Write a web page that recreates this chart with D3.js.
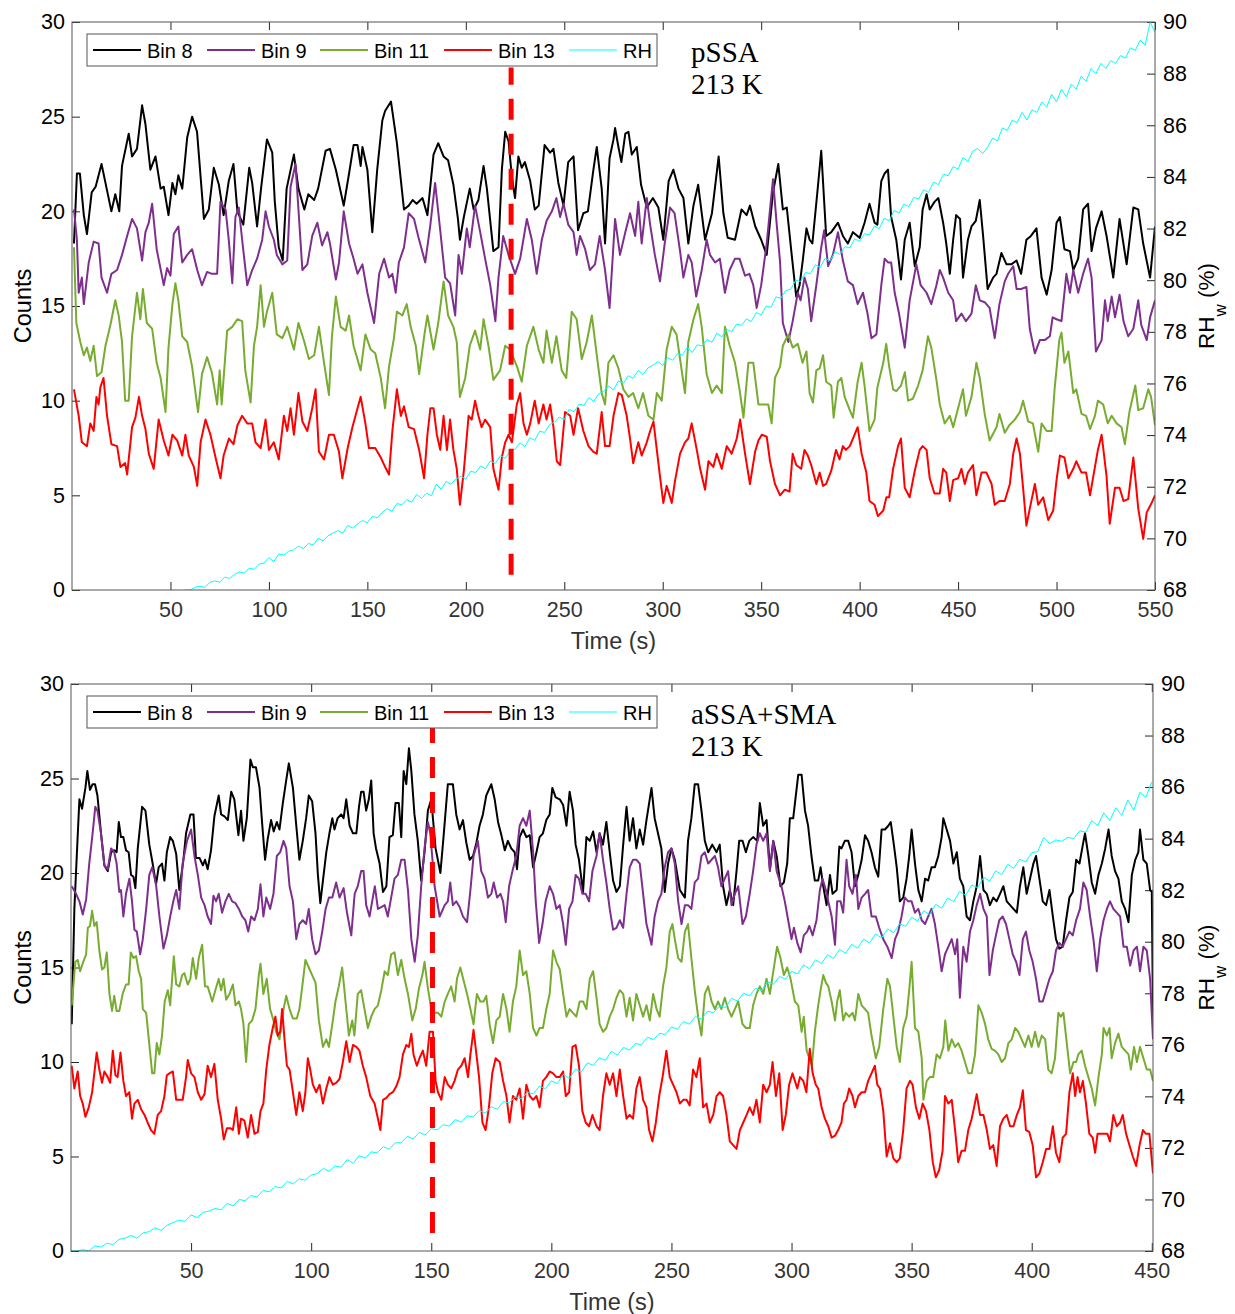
<!DOCTYPE html>
<html>
<head>
<meta charset="utf-8">
<script src="https://cdn.jsdelivr.net/npm/d3@7"></script>
<style>
  body { margin: 0; background: #fff; }
</style>
</head>
<body>
<div id="chart"></div>
<script>
// ---- ticks and labels ----
const countTicks = [0, 5, 10, 15, 20, 25, 30];
const rhTicks = [68, 70, 72, 74, 76, 78, 80, 82, 84, 86, 88, 90];
const topTimeTicks = [50, 100, 150, 200, 250, 300, 350, 400, 450, 500, 550];
const botTimeTicks = [50, 100, 150, 200, 250, 300, 350, 400, 450];
const seriesNames = ["Bin 8", "Bin 9", "Bin 11", "Bin 13", "RH"];
const topNote = ["pSSA", "213 K"];
const botNote = ["aSSA+SMA", "213 K"];
const topMarker = {time: 223, from: 0.8, to: 27.6};
const botMarker = {time: 150.5, from: 0.95, to: 27.7};

// ---- top panel (pSSA), [time s, counts] ----
const topBin8 = [[1,18.3],[2.5,22],[4,22],[6,19.8],[7.6,18.8],[10,21],[12,21.3],[15,22.5],[18,21],[20,20],[22,20.9],[24,20],[25.4,22.4],[28.8,24.1],[30.5,22.9],[33,23.3],[35.6,25.6],[37.3,24.6],[39.8,22.2],[42.4,22.9],[45,21.2],[46.6,21.3],[49,19.8],[51,21.5],[52.5,20.9],[54,21.9],[56,21.2],[58.5,23.9],[61,25],[63.5,24.2],[67,19.6],[69.5,20.1],[72,22.3],[74.6,21.4],[77,19.8],[79.6,21.6],[82,22.5],[84,20],[87,19.3],[90,22.3],[91.5,21.5],[94,19.2],[96,21.2],[99,23.8],[101.7,23.1],[103,20.5],[105,18.1],[107,17.4],[109,21.2],[112.7,23],[115,21.2],[118,20.1],[120,20.9],[123,20.6],[125,21.2],[128.8,23.2],[131,23.3],[134,22.2],[138,20.3],[140.7,22],[143,23.5],[145,23.5],[146.6,22.4],[147.5,23.4],[150,22.2],[152.5,18.9],[155,22.2],[157.6,24.8],[159,25.3],[162,25.8],[165,23.6],[168.6,20.1],[171,20.3],[173,20.6],[175,20.4],[178,20.7],[180.5,19.8],[183.6,23],[186,23.6],[188.7,22.9],[191,22.7],[193.7,21.4],[196,19.6],[197,18.5],[199,19.7],[202,21.2],[204,20.1],[206.4,20.6],[209,22.4],[210.7,21.2],[214,17.9],[216.6,18.1],[218.3,22.2],[220,24.2],[221.7,23.7],[223.4,21.8],[225,20.7],[226.7,22.9],[228.4,22.3],[230,22.6],[232.7,21.6],[235,20.1],[237,20.3],[240,23.5],[242.8,23.1],[244.5,23.3],[247,21.5],[249.6,20.3],[252,22.6],[254.7,22.9],[257,19],[259.7,19.9],[262,20],[264.8,22.2],[266.5,23.4],[269,21.2],[270.7,18.3],[273,22.8],[275,23.8],[275.8,24.4],[277.5,23.4],[279,22.6],[281,24.1],[282.6,24.2],[284.3,23],[286.8,23.4],[289,21.4],[291.9,20.2],[295,20.7],[297.8,20.2],[300.3,18.5],[303,21.6],[305.4,22.2],[308,21.2],[310.5,20.7],[313,18.3],[315.6,20.3],[318,21.4],[321.5,18.5],[325,19.9],[328.4,22.9],[330.8,19.9],[333,18.6],[336.7,18.5],[340,20.1],[342.6,19.8],[344.3,20.3],[347,19.2],[350,18.5],[352.8,17.7],[356,21],[358.7,22.5],[361,20.1],[363,20.2],[365.5,17.7],[367.8,15.5],[369.5,16.1],[371,17.3],[373,19.1],[374.6,18.5],[376,18.3],[378.8,21.3],[380.5,23.2],[383,18.7],[385.6,18.9],[389,19.4],[391.5,18.7],[394,18.3],[396.6,18.9],[400,18.6],[402.5,19.4],[405,20.4],[407.6,19.4],[409,19.3],[411,21.6],[412.7,22],[414.4,22.2],[416,19.7],[418.6,18.5],[421,16.4],[422.9,18.5],[425.4,19.4],[428,17.1],[430.5,18.1],[432,20.1],[434,20.9],[435.6,20.1],[438,20.5],[440,20.7],[442.4,19.4],[444,18.3],[445.8,16.7],[447.5,18.5],[449,19.8],[451,19.6],[452.5,16.5],[455,18.5],[456.8,19.2],[459,19.5],[461,20.6],[462.7,18.7],[465,15.9],[467.8,16.5],[469.5,16.7],[472,17.8],[474.6,17.2],[477,17.2],[479.7,17.4],[482,16.7],[484.7,18.5],[487,18.7],[489.8,19.1],[492.4,16.5],[495,15.6],[497.5,16.9],[500,19.4],[501.7,19.7],[504,18],[506.8,17.9],[508.5,16.9],[511,17.5],[513.5,20.1],[516,20.4],[517.8,17.9],[520,19.1],[522.9,20],[525.4,18.7],[528.8,16.5],[532,19.6],[535.6,17.2],[539,20.2],[541.5,20.1],[544,18.3],[547.5,16.5],[550,19.2]];
const topBin9 = [[1,20.1],[2.5,18.5],[3.4,15.7],[5,16.5],[6,15.1],[8.5,17.3],[11,18.4],[13.5,18.3],[15,16.5],[17.8,15.7],[20,16.7],[22.9,16.9],[25.4,17.7],[28,18.7],[30.5,19.6],[33,19.1],[35.6,17.4],[37.3,18.9],[39,19.4],[40.7,20.4],[43,18],[46.6,16.1],[48.3,17],[50,16.6],[51.7,18.8],[54,19.2],[56,17.3],[58.5,17.7],[61,18],[63.6,16.9],[66,16.1],[68.6,16.8],[71,16.7],[73.7,16.7],[75.4,20.5],[78,20.1],[79.7,18.4],[81.4,16.2],[83,19.7],[84.7,20.2],[86.4,18.5],[89,16.1],[91.5,16.9],[94,17.5],[96.6,18.5],[98.3,20],[100,19.2],[102.5,18.5],[104,17.7],[106.8,17.2],[109.3,17.4],[111,21.3],[113.5,22.5],[115,20.1],[117,16.9],[119.5,17.2],[122,18.7],[124.6,19.4],[127,18.2],[129.7,18.9],[131,18.3],[134,16.4],[135.6,17.3],[138,20],[140.7,18.3],[143,17.5],[145,16.7],[147.5,17.2],[150,15.7],[153.4,14.1],[156,16.7],[158.5,17.5],[161,16.5],[162.7,16.7],[164.4,15.7],[166,17.3],[168.6,18.1],[171,19.9],[173.7,19.6],[176,18.6],[179.4,17.3],[182,19.3],[184.4,21.5],[187,19],[189.5,16.5],[192,16.2],[194.6,14.5],[196.3,17.7],[198,16.7],[200.5,19.1],[202,18.1],[204.7,20.3],[207.3,18.9],[209.8,17.5],[212.4,16.1],[215,14.2],[216.6,16.5],[219,18.7],[221.7,17.7],[225,16.7],[227.6,17.5],[231,19.6],[233.5,18.5],[236,16.7],[238.6,18.5],[241,19.5],[243.7,20],[246,20.7],[247.9,19.7],[249.6,20.4],[252,19.3],[254.7,18.9],[256.3,17.7],[258,18.7],[260.6,18],[263,16.9],[265.6,17.2],[268,18.7],[270.7,16.9],[273,14.9],[275.8,19.6],[278.3,17.7],[281,18.9],[283.4,19.9],[286,18.7],[287.6,20.5],[289.3,18.3],[291.9,20.7],[293.6,19.3],[296,17.7],[298.6,16.3],[301,18.3],[303.7,20.2],[306,19.9],[308.8,17.9],[310.5,16.5],[313,17.7],[314.7,17.3],[317,15.5],[319.8,16.9],[322.3,18.5],[324,17.7],[326.6,17.3],[329,17.5],[331.6,15.7],[334,16.9],[336.7,17.5],[339,17.5],[341.8,16.6],[344,16.7],[346,16.1],[347.7,14.9],[350,16.1],[352.8,18.3],[356,21.7],[357.9,19.3],[359.6,17.3],[361,14.1],[363.8,13.1],[366,14.2],[368.6,15.7],[370,15.3],[372,16.5],[373.7,15.9],[375.4,14.2],[378,16.1],[380.5,18.1],[382,19],[384,17.1],[386.4,17.7],[389,18.9],[391.5,17.4],[394,16.3],[396.6,16.1],[399,15.1],[401.7,15.7],[404,14.6],[406,13.3],[408.5,13.5],[411,16.1],[412.7,17.5],[414.4,17.3],[416,17.3],[417.8,15.7],[420,14.6],[422.9,12.8],[425.4,15.3],[428.8,17.2],[431,16.1],[434,15.7],[436.4,15.1],[439,16.1],[440.7,16.9],[442.4,16.5],[445,15.7],[447.5,15.3],[449,14.2],[451.7,14.6],[454,14.2],[456.8,14.6],[459,16.1],[461,15.3],[463.5,15.2],[466,14.9],[468.6,13.3],[471,15.1],[473.7,16.3],[475.4,16.7],[478,17.1],[479.7,15.9],[482,15.9],[484.7,16],[486.4,13.8],[489,12.5],[491.5,13.2],[494,13.2],[496.6,13.4],[498,14.4],[500,14.3],[502.5,14.2],[505,16.7],[506.8,15.7],[508.5,16.9],[511,15.7],[513.5,16.7],[516,17.5],[517.8,16.5],[520,12.6],[522.9,13.2],[524.6,15.3],[526,14.2],[528,15.5],[529.7,14.4],[532,15.6],[534,14.2],[536.4,13.4],[539,13.8],[541.5,15.3],[543,14],[545.8,13.2],[547.5,14.4],[550,15.3]];
const topBin11 = [[1,18.1],[2.2,14.1],[4.2,13.1],[6,12.4],[7.6,12.8],[9.3,12.1],[11,12.9],[12.7,11.3],[15,11.5],[17,12.9],[19.5,14],[22,15.3],[23.7,14.5],[25.4,13.1],[27,10],[28.8,10],[30.5,13.4],[33,15.7],[34.7,14.3],[36,15.9],[38,14.1],[40.7,13.8],[43,12],[45,11.2],[47.5,9.4],[49,12.8],[51,15.1],[52.5,16.2],[54,15.3],[56,13.4],[58.5,13.1],[61,11.8],[64,9.4],[66,11.4],[68.6,12.3],[71,11.5],[73.7,9.8],[75,11.6],[76,9.8],[78.8,13.7],[81.4,13.9],[84,14.3],[86.4,14.2],[88,11.6],[90.7,9.9],[92.4,12.9],[94,13.9],[95.8,16.1],[97.5,13.9],[99,14.7],[101.7,15.7],[104,13.5],[106.8,13.3],[109.3,13.9],[112.7,12.7],[115,14.1],[118,13.1],[120.3,12.2],[123,12.4],[125.4,13.9],[128,12],[130.5,10.3],[132,13.4],[134,15.5],[136.4,13.9],[139,13.7],[140.7,14.5],[143,12.9],[146.6,11.6],[149,13.5],[151.7,12.7],[154,12.5],[156.8,11.2],[159,9.6],[161,11.8],[163.5,13.3],[165,14.7],[167.8,14.5],[170,15.1],[172,13.9],[174.6,12.9],[176.3,11.4],[179,13.5],[180.5,14.5],[183.6,12.7],[186,14.1],[188.7,16.3],[191,14.5],[193.7,13.9],[195.4,13.1],[197,10.2],[199.7,11.2],[202,12.9],[204.7,13.7],[207.3,12.7],[209,14.3],[211.5,12.9],[214,11.1],[217.4,11.6],[220,12.9],[222.5,12.7],[226,11.8],[228.4,11],[231,12.9],[234.3,13.9],[237,12.7],[239.4,12],[241,13.7],[243.7,12],[246,13.4],[248.7,11.6],[251,11.2],[253.8,14.7],[256.3,14.3],[258.9,12.2],[261.4,13.1],[264,14.5],[266.5,12.4],[269,10.4],[270.7,9.8],[272.4,12],[275,12.4],[277.5,11.7],[280,10.6],[282.6,10.2],[285,10.4],[287.6,9.6],[290,10.4],[292.7,9.2],[295.3,9],[297,10.4],[299.5,10],[302,12.7],[304.6,13.9],[307,13.5],[308.8,12.2],[311.3,10.4],[313,13.1],[315.6,14.3],[318,15.1],[319.8,13.9],[322.3,11.4],[325,10.4],[327.4,10.8],[330,10.4],[331.6,13.9],[334,12.9],[336.7,12],[339,10.6],[341,9.1],[343.5,12],[346,12],[348.6,9.8],[351,9.8],[353.6,9.8],[355.3,8.8],[357,11.2],[359.6,11.8],[361,12.9],[363.8,13.5],[366,12.8],[368.6,13],[371,12],[373,12.6],[374.6,10.4],[376.3,9.9],[378,11.6],[379.7,11.7],[381.4,12.4],[383,11],[385.6,10.8],[386.8,9.1],[389,11],[390.7,11.2],[392.4,10.2],[395,9.5],[396.6,9.1],[399,11],[401,12],[402.5,10.8],[405,8.4],[407.6,9],[409,10.7],[412,12],[413.5,13],[415,11.8],[417,10.6],[418.6,10.5],[421,10.8],[423,11.5],[424.6,10],[427,10.1],[429.7,10.8],[432,11.6],[434.7,13.4],[436.4,12.8],[439,11.1],[440.7,9.8],[443.2,8.8],[445.8,9.2],[447.5,8.6],[450,9.6],[452.5,10.6],[454,9.2],[456.8,10.2],[459.3,12],[461,11.2],[463.5,9.3],[466,7.9],[469.5,8.6],[471,9.3],[473.7,8.3],[476,8.7],[478.8,9],[481.4,9.4],[483,10],[485.6,8.9],[488,8.8],[490.7,7.3],[492.4,8.8],[495,8.4],[497.5,8.4],[499,10.6],[501.4,13.2],[502.5,13.6],[504,12],[506,12.6],[508.5,10.4],[510,10.6],[512.7,9.3],[515,9.2],[517,8.5],[519.5,9.2],[521,10],[523.7,9.8],[526,8.8],[528,9.2],[530.5,8.8],[533,8.6],[534.7,7.7],[537,9.4],[540,10.8],[541.5,9.5],[544,9.6],[546.6,10.6],[548,10.2],[550,8.7]];
const topBin13 = [[1,10.6],[3.4,9.2],[5,7.8],[7.6,7.6],[9.3,8.8],[11,8.4],[12.4,10.2],[13.5,9.8],[14.4,10.7],[16,11.2],[17.8,9.2],[20,7.7],[22.9,7.6],[24.6,6.5],[27,6.7],[28,6.1],[30.5,8.6],[32.2,9.1],[34,10.2],[35.6,9.2],[37.3,8.5],[39,7.2],[41.5,6.4],[44,9],[46.6,7.9],[49,7.1],[51,8.2],[53.4,7.9],[56,7.1],[57.6,8.2],[59.3,7.1],[61.9,6.5],[63.6,5.5],[65.3,7.8],[67.8,9],[70.3,8.2],[72.9,7],[75.4,5.9],[77,7.1],[79.7,8],[82,7.7],[84,8.7],[86.4,9.2],[89,8.8],[91.5,8.8],[93.2,7.8],[95.8,7.5],[98.3,9],[100,7.4],[102.5,7.8],[105,6.9],[107.6,9.2],[109.3,8.4],[111,9.6],[112.7,8.2],[115,10.4],[117,8.9],[119.5,8.4],[122,9.6],[123.7,10.6],[125.4,7.3],[128,6.9],[130.5,8.2],[133,8.2],[135.6,7.3],[137.3,5.9],[140,7.5],[142.4,8.6],[145,9.6],[146.6,10.2],[149,8.8],[150.8,7.5],[154,7.5],[156.8,7],[159,6.5],[161,6.1],[162.7,8.4],[165,10.6],[167,9.2],[168.6,9.7],[171,8.6],[173.7,8.5],[176.3,7.4],[178.8,5.9],[180.5,8.2],[182,9.6],[183.6,9.6],[185.3,8.2],[187,7.4],[188.7,9.2],[190.4,7.4],[192,9],[193.7,7.4],[195.4,6.4],[197,4.5],[199,6.3],[201.4,9.2],[203,9],[204.7,10],[206.4,9.2],[208,8.6],[209.8,9],[212.4,8.6],[214,6.4],[216.6,5.3],[218.3,7],[220,7.8],[221.7,8.2],[223.4,7.8],[225.9,9.8],[227.6,10.4],[229.3,8.8],[231,8.2],[232.7,8.8],[235,10],[237,8.8],[239.4,9.8],[241,9],[242.8,9.8],[244.5,8.6],[246.2,6.8],[247.9,6.6],[250.4,9.4],[253,9.2],[254.7,8.2],[257,9.6],[259.7,8.4],[262.3,7.6],[264.8,7.3],[266.5,7.2],[269,9.4],[270.7,7.6],[273,7.6],[275,9.2],[277.5,10.4],[279.2,10.3],[281.7,9.2],[283.4,8],[285,6.7],[287.6,7.8],[289.3,7.1],[291.9,7.8],[293.6,8.4],[295.3,8.9],[297,7.4],[298.6,6],[300.3,4.6],[302,5.5],[304.6,4.6],[306.3,5.8],[308.8,7.2],[311.3,7.8],[313,8],[314.7,8.8],[317.3,7.4],[319,6.4],[321.5,5.3],[323.2,6.8],[325.7,6.5],[327.4,7.2],[330,6.4],[332.5,7.6],[335,7.2],[337.6,8],[339.3,9],[341.8,7.2],[344.3,5.6],[346.9,7.3],[348.6,7.9],[350.3,8.2],[352.8,8.1],[354.5,6.8],[357,5.6],[359.6,5],[362,5.3],[364.4,5.2],[366,7.2],[367.8,6.6],[370.3,6.4],[372,7.4],[373.7,7.1],[375.4,6.6],[378,5.6],[379.7,6.2],[381.4,5.5],[383,5.6],[385.6,6.3],[388,7.4],[389.8,6.9],[391.5,7.6],[393,7.4],[395,7.6],[396.6,8],[399,8.6],[401,7.2],[403.4,6.2],[405,4.7],[407.6,4.5],[409.3,3.9],[412,4.2],[413.6,4.9],[415,4.9],[417,6.4],[419.5,7.6],[421,8],[422.9,5.4],[425.4,4.9],[428,6.3],[430.5,7.4],[432,7.6],[434,7.4],[435.6,5.9],[438,5.1],[440.7,5.1],[442.4,6.4],[444,6.2],[445.8,4.7],[447.5,5.8],[450,5.9],[451.7,6.4],[453.4,5.6],[455,6.2],[457.6,6.6],[459.3,5],[461.9,6.2],[464.4,6.2],[467,5.6],[468.6,4.5],[471,4.7],[473.7,4.7],[476.3,5.6],[478,7.2],[479.7,8],[481.4,7.2],[483,5.4],[484.7,3.4],[486.4,4.3],[489,5.6],[490.7,4.5],[493.2,4.9],[495.8,3.7],[498.3,4.2],[500,5.8],[501.7,7.1],[504,7],[506,5.9],[508.5,6.4],[510,6.8],[512.7,6.2],[515,6.2],[517,5],[519.5,6.5],[521,7.4],[522.9,8.2],[525.4,6],[527,3.5],[529.7,5.4],[532,5.4],[534,4.7],[536.4,4.8],[539,7],[541.5,4.3],[544,2.7],[545.8,4.1],[548.3,4.6],[550,5]];
// RH (%) sampled every 2.5 s from 55 s
const topRHStart = 55;
const topRH = [67.9,68.0,68.0,68.1,68.15,68.1,68.3,68.35,68.3,68.5,
  68.45,68.6,68.7,68.65,68.85,68.8,69.0,69.05,69.25,69.1,
  69.4,69.35,69.5,69.55,69.7,69.6,69.8,69.75,70.0,69.9,
  70.1,70.2,70.3,70.2,70.5,70.4,70.55,70.7,70.6,70.85,
  70.8,71.0,71.15,71.05,71.35,71.3,71.5,71.4,71.7,71.55,
  71.75,71.65,72.1,71.9,72.2,72.1,72.3,72.4,72.3,72.6,
  72.55,72.8,72.7,73.0,72.9,73.2,73.1,73.4,73.45,73.7,
  73.55,73.9,73.8,74.15,74.1,74.4,74.5,74.7,74.6,75.0,
  74.9,75.2,75.15,75.45,75.3,75.6,75.7,75.9,75.75,76.1,
  76.0,76.3,76.2,76.5,76.35,76.6,76.7,76.85,76.7,77.0,
  76.9,77.15,77.1,77.4,77.2,77.5,77.45,77.7,77.6,77.95,
  77.8,78.1,78.0,78.3,78.25,78.5,78.4,78.75,78.65,79.0,
  78.95,79.35,79.3,79.6,79.65,80.0,79.95,80.3,80.25,80.6,
  80.5,80.85,80.75,81.1,81.0,81.3,81.25,81.6,81.5,81.8,
  81.75,82.1,82.0,82.4,82.3,82.7,82.6,82.95,82.85,83.2,
  83.15,83.5,83.4,83.8,83.7,84.1,84.05,84.4,84.3,84.75,
  84.6,85.0,85.1,84.9,85.15,85.5,85.4,85.9,85.8,86.2,
  86.1,86.5,86.2,86.6,86.5,86.9,86.7,87.2,86.9,87.4,
  87.1,87.6,87.4,87.9,87.7,88.2,88.0,88.4,88.2,88.5,
  88.4,88.7,88.6,89.0,88.9,89.3,89.1,90.0,89.6];

// ---- bottom panel (aSSA+SMA), [time s, counts] ----
const botBin8 = [[0.3,12],[1.4,18.1],[2.4,20.9],[3.5,23.9],[4.6,23.4],[6,24.5],[6.8,25.4],[7.9,24.4],[9,24.7],[10,24.7],[11,24.1],[12.5,22.1],[13.9,20.4],[15.3,20.1],[16.7,21.1],[18,21.2],[19,21.1],[19.9,22.7],[20.8,21.9],[21.8,21.9],[22.9,21.2],[24,21.1],[25,19.9],[26,19.8],[26.8,19.2],[27.8,21.3],[29.6,23.5],[31,23.3],[32.6,21.5],[34,20.5],[35.4,19.4],[36.5,20.3],[37.9,20.5],[38.9,19.6],[39.9,21.1],[41.3,21.9],[42.4,21.7],[43.8,21],[45.1,19.1],[46.8,20.7],[47.9,22.1],[49.7,23.1],[51,23.1],[52,20.8],[53.5,20.8],[54.9,20.4],[55.8,20.7],[56.9,20.2],[58.3,21.2],[59.7,23],[61.5,24.1],[62.5,23.1],[63.9,23],[65.3,22.8],[66.7,24.3],[68,23.9],[69.7,22],[70.8,23.3],[71.8,21.7],[73.2,22.9],[74.7,26],[75.7,25.6],[77,25.6],[78.5,24.5],[79.6,22.6],[80.8,20.7],[81.9,21.8],[83.3,22.8],[84.4,22.2],[85.7,22.7],[86.8,22.3],[88.2,23.7],[89.6,24.9],[90.7,25.8],[92.4,24.5],[93.8,22.5],[95.1,20.7],[96.5,21.7],[97.9,22.9],[99,24.1],[100.4,23.8],[101.8,22.1],[102.8,19.9],[103.8,18.4],[104.9,19.6],[106.3,21.1],[107.6,22.1],[108.8,22.9],[109.7,22.3],[111,22.9],[112.5,23.1],[113.5,22.9],[114.6,23.9],[116,22.5],[117.4,22.1],[118.8,22.1],[119.9,23.5],[120.8,24.3],[121.8,24.3],[122.9,23.3],[124,23.9],[125,24.9],[126,22.1],[127,21.3],[128.5,20.5],[129.9,19],[131.3,19.3],[132.6,21.9],[134,22],[135.1,23.7],[136.5,23.7],[137.5,21.9],[138.5,25.4],[139.6,24.7],[140.7,26.6],[141.7,25.4],[143,23.1],[144.4,21.7],[145.8,19.6],[147.2,21.1],[148.6,23.3],[150,23.9],[151.8,21.3],[153.8,20],[155.1,21.9],[156.9,24.7],[159,24.7],[160.4,23.1],[161.8,22.3],[163.2,22.8],[164.6,21.6],[166,20.7],[167.4,20.9],[168.8,21.6],[170.1,22.5],[171.5,23.1],[172.9,24.1],[175,24.7],[176.4,23.9],[177.8,22.7],[179.2,22],[180.6,21.2],[181.9,21.7],[183.3,21.3],[184.7,21.1],[185.7,20.2],[186.8,21.9],[188.2,22.3],[189.6,21.9],[191,22],[192.4,20.3],[193.8,21.1],[195.1,21.9],[196.5,22.1],[197.9,22.8],[199.3,23.1],[200.4,24.5],[201.8,24],[203.5,23.9],[204.9,23.6],[206.3,22.5],[207.6,24.3],[209,23.3],[210.1,21.5],[211.5,20.7],[213.2,19],[214.6,21.9],[216,21.7],[217.4,22.2],[218.8,21.1],[220.1,22.1],[221.5,21.5],[222.9,22.7],[224.3,21.1],[225.7,19.6],[227.1,19],[228.5,19.3],[229.9,21.5],[231.3,23.5],[232.6,21.7],[234,22.9],[235.4,21.3],[236.8,22.3],[238.2,21.5],[239.6,22.8],[241.7,24.5],[243,22.9],[244.4,22.1],[245.8,21.3],[247.2,19],[248.6,20.5],[250,21.3],[251.4,20.7],[253.5,19.1],[255.6,18.7],[256.9,21.7],[258.3,22.9],[259.7,24.7],[261.1,24.7],[262.5,23.3],[263.9,21.7],[265.3,21.1],[267,21.5],[268.8,21.1],[270.1,21.5],[271.5,19.3],[272.9,18.3],[274.3,19.1],[275.7,18.3],[277.1,20.1],[278.2,21.7],[279.6,21.7],[281,21.1],[282.4,21.7],[284,21.9],[285.7,21.7],[286.8,23.7],[288.2,22.5],[289.6,22.8],[291,20.2],[292.4,21.7],[293.8,20.9],[295.4,19.3],[296.8,19.5],[298.2,20.5],[299.3,22.9],[300.7,22.9],[302.8,25.2],[304.2,25.2],[305.6,23.3],[306.9,22.5],[308.3,20.9],[309.7,19.6],[311.1,19.6],[312.1,20.3],[313.2,19.3],[314.6,18.3],[316,19.9],[317.1,18.9],[318.8,19.1],[319.9,21.4],[320.8,21.3],[322.2,21.7],[323.6,21.7],[325,21.1],[326.4,19.3],[327.8,19.9],[329.2,20.7],[330.6,22],[331.9,21.7],[333.3,21.1],[334.7,20.3],[336.1,19.8],[337.5,22.3],[338.9,22.3],[340.3,22.5],[341.3,22.7],[342.6,21.5],[343.8,20.3],[345.1,18.5],[346.5,18.7],[347.9,19.7],[349,20.9],[350,22.3],[351.4,20.5],[352.8,19.1],[354.2,18.5],[355.6,19.7],[356.9,19.6],[358.3,20.3],[359.7,20.3],[361.1,20.9],[362.5,21.9],[363.2,22.9],[364.6,22.3],[366,21.7],[367.4,20.5],[368.8,21.1],[370.1,19.7],[371.5,19.3],[372.9,17.7],[374.3,17.5],[375.7,18.5],[377.1,19.3],[378.5,20.9],[379.9,19.1],[381.3,18.9],[382.6,18.3],[384,18.7],[385.4,18.5],[386.8,18.9],[388.2,19.3],[389.6,18.5],[391,18.3],[392.4,18.1],[393.8,17.9],[395.1,19.3],[396.5,20.3],[397.9,18.9],[399.3,19.7],[400.7,20.5],[401.8,20.9],[403.2,19.7],[404.6,18.5],[406,18.3],[407.4,19.1],[408.8,17.7],[410.1,16.5],[411.5,16],[412.9,16.1],[414.3,17.5],[415.7,18.7],[417.1,19],[418.5,20.7],[419.9,20.5],[421.3,21.5],[422.2,22.1],[423.6,20.9],[425,19.5],[426.4,18.9],[427.8,19.9],[429.2,20.5],[430.6,21.3],[432,22.3],[433.3,20.9],[434.7,20.1],[436.1,19.7],[437.5,18.5],[438.9,18.1],[440.3,17.4],[441.7,19.9],[443.1,20.7],[444.4,21.1],[445.1,22.3],[446.5,20.7],[447.9,20.5],[449.3,19.1],[450,19],[450.5,12.4]];
const botBin9 = [[0.3,19.3],[2.1,18.9],[3.5,18.5],[4.9,17.8],[6.3,18.6],[7.6,20.5],[9,22.1],[10.1,23.5],[11,23.3],[12.5,22.1],[13.9,20.4],[15.3,20.2],[16.7,21.3],[18,21.1],[19,20.5],[20.1,19],[20.8,19.1],[21.8,17.7],[22.9,18.9],[24.3,19.7],[25.4,18.5],[26.4,17],[27.4,16.9],[28.8,15.7],[29.9,16.5],[31.3,18.1],[32.6,19.9],[33.8,20.3],[35.4,19.4],[36.8,17.7],[38.5,16],[39.9,16.7],[41.3,17.7],[42.6,18.5],[43.8,19.1],[45.1,18.1],[46.5,20.5],[48.3,21.7],[50,22.3],[51.4,20.9],[52.8,19.9],[54.2,18.7],[55.6,18.3],[56.9,17.7],[58.3,17.3],[59.3,18.8],[60.4,18.5],[61.5,18.9],[62.9,17.9],[64.3,18.5],[65.7,18.9],[67.1,18.5],[68.5,18.4],[69.9,18.1],[71.3,17.7],[72.6,17.5],[73.8,16.9],[75,17.7],[76.4,17.5],[77.8,18.1],[78.9,19.4],[80.1,17.7],[81.3,18.7],[82.9,18.1],[84.3,18.9],[85.7,20.9],[87.1,21.1],[88.5,21.7],[89.6,21.3],[91,19.3],[92.4,18.5],[93.8,16.5],[95.1,17.3],[96.5,17.5],[97.9,17.3],[99,18.1],[100.4,16.5],[101.8,15.7],[103.2,15.9],[104.6,16.9],[106,18.1],[107.4,18.7],[108.8,18.7],[110.4,19.5],[111.8,18.7],[113.5,19.2],[114.9,17.9],[116.7,16.7],[118.1,18.9],[119.4,19.3],[120.8,20.1],[121.8,20.1],[122.9,18.3],[124.3,17.7],[125.4,18.5],[126.5,19.3],[127.8,18.1],[129.2,18.2],[130.6,18.3],[131.9,17.7],[133.3,18.7],[134.7,19.7],[136.1,19.9],[137.5,20.7],[138.9,20.7],[140.3,19.1],[141.7,16.5],[143.1,15.3],[144.4,16.7],[145.8,19.3],[147.2,21.3],[148.6,22.7],[149.6,22.1],[151.4,19.3],[153.5,17.7],[155.6,18.3],[156.9,18.5],[157.9,19.5],[159,18.3],[160.4,18.5],[161.8,18.2],[163.2,17.7],[164.9,17.4],[166.3,19.1],[167.6,20.9],[169.4,21.7],[170.8,20.1],[172.2,19.7],[173.6,18.7],[175,18.9],[176,19.5],[177.4,18.7],[178.8,18.9],[179.9,18.5],[181,17.4],[182.4,19.3],[183.8,20.1],[185.4,20.9],[186.8,22.5],[188.2,22.9],[189.6,22.5],[191,23.3],[192.4,21.1],[193.5,18.5],[194.9,16.3],[196.3,17.3],[197.6,18.5],[199.3,19.3],[200.7,18.9],[202.1,18.1],[203.5,18.3],[204.9,17.3],[206,16.2],[207.4,18.1],[208.8,18.5],[210.1,19.9],[211.5,19.7],[212.9,18.9],[214.3,18.9],[215.7,18.5],[217.1,20.1],[218.8,20.9],[220.1,22.1],[221.5,20.7],[222.9,19.5],[224.3,18.1],[225.7,17],[227.1,17.1],[228.5,17.5],[229.9,17.1],[231.3,18.9],[232.6,20.3],[234,20.7],[235.4,20.7],[236.8,20.5],[238.2,18.9],[239.6,17.3],[241.7,16.2],[243,17.7],[244.4,18.5],[245.8,18.9],[247.2,20.3],[248.6,21.1],[250,21.3],[251.4,20.5],[252.8,18.5],[254.2,17.3],[255.6,18.3],[256.9,18.3],[258.3,18.1],[259.7,19.5],[261.1,19.7],[262.5,20.9],[263.9,21.1],[265.3,20.5],[266.7,20.7],[268.1,20.9],[269.4,20.3],[270.8,19.3],[272.2,19.7],[273.6,20.1],[275,18.3],[276.4,18.9],[277.8,19.3],[279.6,17.3],[281,17.7],[282.6,18.9],[284,20.1],[285.4,21.5],[286.8,22.1],[288.2,21.7],[289.6,22.1],[291,20.1],[292.4,21.7],[293.8,20.1],[295.8,19.3],[297.2,18.5],[298.6,17.5],[300,16.5],[301,17.1],[302.4,16.3],[303.8,15.8],[305.1,16.7],[306.5,16.9],[307.4,17.2],[308.8,16.7],[310.4,17.5],[311.8,19.1],[312.9,19.7],[314.3,19.1],[315.3,18.5],[316.7,17.7],[318.1,16.2],[319,18.5],[320.4,18.5],[321.5,17.9],[322.9,20.7],[324,19.3],[325.4,18.9],[326.8,19.9],[327.8,18.1],[329.2,18.7],[330.6,18.9],[331.9,19.1],[333.3,17.7],[335.1,17.7],[336.5,17.1],[338.2,16.5],[339.9,16.1],[341.7,15.5],[343.1,16.5],[344.4,16.9],[345.8,17.7],[347.2,18.7],[348.6,18.5],[350,18.5],[351.4,17.9],[352.8,18.1],[354.2,17.5],[355.6,17.3],[356.9,17.7],[358.3,18.1],[359.7,17.3],[361.1,16.1],[362.5,14.8],[363.9,15.7],[365.3,16.1],[366.7,16.5],[368.1,15.7],[369,16.5],[370.1,13.4],[371.5,16.1],[372.9,15.3],[374.3,16.9],[375.7,17.5],[377.1,18.3],[378.5,18.9],[379.9,18.1],[381.3,17.7],[382.4,14.6],[383.8,15.9],[385.1,16.7],[386.5,17.5],[387.9,17.7],[389.3,17.3],[390.7,16.5],[392.1,15.7],[393.5,15.3],[394.9,14.6],[396.3,16.5],[397.6,16.9],[399,15.9],[400.4,15.3],[401.8,14.4],[403.2,13.2],[404.6,13.2],[406,13.8],[407.4,14.4],[408.8,14.8],[410.1,15.9],[411.5,16.3],[412.9,16.1],[414.3,16.5],[415.7,16.9],[417.1,16.7],[418.5,17.5],[420.1,18.1],[421.5,19.5],[422.9,19.1],[424.3,17.7],[425.7,16.5],[427.1,14.8],[428.5,16.5],[429.9,17.5],[431.3,18.1],[432.6,18.5],[434,18.1],[435.4,17.9],[436.8,17.7],[438.2,16.1],[439.6,16.1],[441,15.1],[442.4,15.9],[443.8,16.1],[445.1,14.8],[446.5,16.1],[447.9,15.9],[449.3,14.4],[450.5,11.2]];
const botBin11 = [[0.3,13],[1.8,15.3],[2.8,15.4],[3.8,14.8],[5.1,15.3],[6.3,15.7],[7,17.1],[7.9,17.2],[8.8,18],[9.7,17.2],[10.7,17.4],[11.8,15.9],[12.9,14.9],[13.9,15],[14.9,15.8],[16,13.6],[17.1,12.7],[18,13.5],[19,12.7],[20.1,12.7],[21.5,13.6],[22.9,14.1],[24,14.1],[24.9,15.8],[26,15.5],[27.1,15.6],[28.2,14.8],[29.2,14.4],[29.9,12.8],[31.3,12.6],[32.4,11.2],[33.8,9.4],[34.7,9.4],[35.7,11],[36.8,10.4],[37.9,11.4],[39,13.2],[40.3,13.8],[41.3,13],[42.8,15.6],[43.8,14.1],[45.1,14],[46.3,14.6],[47.2,14.7],[48.6,14.1],[49.7,14.4],[50.7,15.5],[52.1,14.4],[53.2,15.5],[54.6,16.2],[55.8,14],[56.9,14],[58.8,13.2],[60.1,13.8],[61.5,14.4],[62.5,13.8],[63.5,14.4],[64.6,13.3],[66,13.6],[67.4,14.1],[68.5,13],[69.9,13.2],[70.8,12.8],[71.8,12],[72.9,10],[74,12],[75.4,12.2],[76.8,12.8],[78.2,14.6],[78.9,15.2],[80.1,13.6],[81.5,14.4],[82.9,12.8],[84.3,12.2],[85.4,11.6],[86.8,11.2],[88.5,12.8],[89.6,13.5],[91,12.8],[92.4,12.3],[94,12.3],[95.1,12.8],[96.3,14],[97.6,15.4],[99,15],[100.4,14.6],[101.8,14.2],[103.2,12.2],[104.9,10.8],[106.3,11.2],[107.4,10.8],[108.8,12],[110.1,13.2],[111.5,14],[112.9,15],[114.3,13.2],[115.7,11.4],[117.1,12.2],[118,11.4],[119.4,13.6],[120.8,13.8],[122.2,12.8],[123.6,11.8],[125,12.4],[126.4,12.8],[127.8,13],[129.2,13.8],[130.6,14.8],[131.9,14.6],[133.3,15.7],[134.7,15.8],[136.1,14.6],[137.5,15.4],[138.9,14.4],[140.3,13.6],[142.1,12.2],[143.5,12.8],[144.9,13.9],[146.3,14.6],[147.2,15.3],[148.6,13.9],[150,12.8],[151.4,12.6],[152.8,12.6],[154.2,12.4],[155.6,13.2],[156.9,13.6],[158.3,14],[159.7,13.2],[160.7,14.4],[162.1,15],[163.5,14.3],[164.9,13.6],[166.3,12.8],[167.6,12],[169,13.6],[170.4,13.2],[171.8,13.2],[172.9,13.5],[174.3,12],[175.7,11],[177.1,12.2],[178.5,12.4],[179.9,13.6],[181.3,12.8],[182.6,11.6],[184,13.2],[185.4,14],[186.8,15.9],[188.2,14.6],[189.6,14.8],[191,13.6],[192.4,11.8],[193.8,11.4],[195.1,11.8],[196.5,11.8],[197.9,12.8],[199.3,13.6],[200.7,15.9],[202.1,15.3],[203.5,14.9],[204.9,13.6],[206.3,12.4],[207.6,12.8],[209,12.6],[210.4,12.4],[211.8,13.2],[213.2,13.2],[214.6,12.8],[216,14.4],[217.4,14.8],[218.8,13.4],[220.1,12],[221.5,11.6],[222.9,11.8],[224.3,12.4],[225.7,12.8],[227.1,13.4],[228.5,13.8],[229.9,13.6],[231.3,12.4],[232.6,13.4],[234,12.2],[235.4,13.6],[236.8,13],[238.2,12.4],[239.6,13],[241,12.2],[242.4,13.6],[243.8,12.8],[245.1,12.4],[246.5,14],[247.9,15],[249.3,16.9],[250.4,17.3],[251.4,16.5],[252.8,15.5],[254.2,15.3],[255.6,16.9],[256.9,17.3],[258.3,15.5],[259.7,13.8],[261.1,12.4],[262.5,11.4],[263.9,13.6],[265.3,14],[266.7,13.2],[268.1,12.8],[269.4,13.2],[270.8,12.8],[272.2,13.4],[273.6,12.8],[275,12.4],[276.4,12.8],[277.8,13.2],[279.6,12],[281,11.8],[282.6,11.8],[284,13],[285.4,13.6],[286.8,14],[288.2,13.6],[289.6,14.4],[291,13.6],[292.4,14.8],[294,16.1],[295.4,15.5],[296.8,14.6],[298.2,15],[299.6,14.4],[301.4,13.2],[302.8,13],[304.2,11.6],[305.1,12.4],[306.3,10.6],[307.4,10.2],[308.5,9.8],[309.7,11.6],[311.1,13],[312.1,13.8],[313.2,14.6],[314.3,14.2],[315.3,14],[316.7,13.2],[318.1,12.2],[319,13.2],[320.1,13.8],[321.5,12.2],[322.6,12.6],[324,12.4],[325.4,12.6],[326.4,12.2],[327.8,13.6],[329.2,13],[330.6,12.8],[331.9,12.6],[333.3,11.4],[335.1,10.2],[336.5,10.8],[338.2,12.8],[339.9,14.4],[341,14],[342.4,12.4],[343.8,10.8],[345.1,10],[346.5,11.8],[347.9,12.4],[349,13.8],[350,15.3],[351.4,11.8],[352.8,11.6],[354.2,10.2],[354.9,8],[356.3,9],[357.6,9.2],[359,9.2],[360.4,10.4],[361.8,10.2],[363.2,10.8],[364,12.2],[365.3,10.6],[366.7,11.2],[368.1,10.8],[369.4,11],[370.8,10.6],[372.2,10],[373.6,9.4],[375,9.4],[376.4,10.4],[377.8,13],[379.2,12.6],[380.6,12],[381.9,11.2],[383.3,10.7],[384.7,10.6],[386.1,10.4],[387.5,10],[388.9,10.2],[390.3,11],[391.7,11.2],[393.1,11.8],[394.4,11.6],[395.8,11.2],[397.2,10.8],[398.6,11.4],[400,10.8],[401.4,11.6],[402.8,10.8],[404.2,11.4],[405.6,11.2],[406.9,9.6],[408.3,9.4],[409.7,10.2],[411.1,12.6],[412.1,12.4],[413.2,12.6],[414.6,11],[416,9.4],[417.4,10],[418.5,10],[419.4,10.4],[420.8,10.6],[422.2,9.8],[423.6,9.2],[425,8.6],[426.4,7.7],[427.8,9.2],[429.2,10.4],[429.9,11.8],[431.3,11.4],[432.4,11.8],[433.3,10.2],[434.7,11],[436.1,11.5],[437.5,10.8],[438.9,10.6],[440.3,10.4],[441.3,9.6],[442.6,10.8],[443.8,10],[445.1,10.8],[446.5,10.2],[447.9,9.6],[449.3,9.6],[450.5,9]];
const botBin13 = [[0.3,9.8],[1.4,8.6],[2.8,9.5],[3.8,8.2],[4.9,7.8],[6,7.1],[7.4,7.6],[8.8,8.4],[9.7,9.4],[10.7,10.5],[11.8,9.6],[12.9,8.9],[13.9,9.5],[15.3,9.2],[16.3,8.9],[17.4,10.6],[18.5,9.3],[19.4,9.2],[20.6,10.5],[21.8,9],[22.9,8.2],[24.3,8.4],[25.4,7],[26.4,7.8],[27.8,8],[29.2,7.5],[30.6,7.2],[31.9,6.8],[33.3,6.4],[34.7,6.2],[36.1,7.2],[37.5,7.4],[38.9,8.2],[39.9,9.3],[41,9.4],[42.4,9.5],[43.8,8],[45.1,8],[46.5,8],[47.9,9.2],[48.6,10.1],[50,9.4],[51.4,9.2],[52.8,8.4],[54.2,8],[55.6,8.3],[56.9,9.8],[58.3,9.2],[59.7,9.9],[61.1,8],[62.5,7],[63.6,5.9],[64.9,6.5],[66.3,6.5],[67.4,6.4],[68.8,7.6],[69.9,6.2],[70.8,7],[72.2,6.9],[73.6,6],[75,7.2],[76.4,6.2],[77.8,6.3],[78.9,7.4],[80.1,7.8],[81.3,9.6],[82.6,10.9],[84,11.8],[85.1,12.4],[86.1,11.4],[87.1,11.6],[87.9,12.8],[88.9,11.2],[89.9,9.8],[91,9.6],[92.4,8.4],[93.8,7.2],[95.1,8.4],[96.5,7.4],[97.6,8.4],[98.6,10.2],[99.6,9.6],[100.7,8.8],[102.1,8.4],[103.5,8.8],[104.9,7.8],[106.3,8.6],[107.6,9.2],[109,8.8],[110.4,8.9],[111.8,9.1],[113.2,10],[114.6,11.1],[116,10],[117.4,10.9],[118.8,10.8],[120.1,10.6],[121.5,9.8],[122.9,9.2],[124.6,8.2],[126.4,7.8],[127.8,7],[128.8,6.4],[129.9,8],[131.3,8.1],[132.6,8.3],[134,8.4],[135.4,8.7],[136.8,9.2],[138.2,10.4],[139.6,10.9],[140.7,10.8],[141.7,11.5],[142.6,10.4],[144,9.8],[145.1,10.2],[146.5,10.6],[147.9,9.8],[149.3,11.6],[150.7,11.6],[151.8,9],[152.8,8.4],[154.2,8],[155.6,9.2],[156.9,8.8],[158.3,8.6],[159.7,9],[161.1,9.6],[162.5,9.8],[163.9,10.2],[165.3,9.2],[166.3,10.4],[167.6,11.7],[168.8,10.4],[169.9,9.2],[171.3,6.8],[172.6,6.4],[174,7.6],[175.4,9.4],[176.8,10.2],[178.5,10],[179.9,9],[181.3,8.2],[182.6,6.8],[184,8.2],[185.4,8],[186.8,8.6],[188.2,7],[189.6,8.8],[191,8.2],[192.4,8],[193.8,8.2],[195.1,7.6],[196.5,9],[197.9,9.2],[199.3,9.5],[200.7,9.4],[202.1,9.2],[203.5,9.2],[204.9,9.5],[206,8.2],[207.4,8.4],[208.8,10.8],[210.1,10.9],[211.5,9.8],[212.9,7.4],[214.3,6.8],[215.7,6.6],[217.1,7.2],[218.8,6.6],[220.1,6.4],[221.5,8.2],[222.9,9.4],[224.3,8.8],[225.7,9.4],[227.1,8.2],[228.5,9.6],[229.9,8.2],[231.3,7],[232.6,7.2],[234,7],[235.4,8.6],[236.8,9.2],[238.2,8],[239.6,7.6],[240.7,6.4],[242.1,5.8],[243.5,6.8],[244.9,8.2],[246.3,9.2],[247.9,10.6],[249.3,9.2],[250.7,8.8],[252.1,8.4],[253.5,7.8],[254.9,8],[256.3,8],[257.6,7.7],[259,9.6],[260.4,9.2],[261.8,10.2],[263.2,7.6],[264.6,7.8],[266,6.8],[267.4,7.2],[268.8,8.2],[270.1,8.4],[271.5,8.2],[272.9,7.2],[274.3,5.8],[275.7,5.6],[277.1,5.4],[278.5,6.4],[279.9,6.8],[281.3,7.2],[282.6,7.6],[284,7.2],[285.4,8],[286.8,6.8],[288.2,8.8],[289.6,8.4],[291,8.8],[292.1,10],[293.5,8.2],[294.9,9.4],[296.3,6.4],[297.6,7.2],[299,8.8],[300.4,9.4],[301.4,9],[302.4,8.6],[303.5,9.2],[304.9,9],[306.2,8.4],[307.6,10.7],[308.8,9.4],[310.1,8.8],[311.1,8.6],[312.5,7.6],[313.9,7],[315.3,6.6],[316.7,6],[318.1,6.1],[319.4,6.4],[320.8,6.8],[321.8,7.8],[322.9,8],[324,8.6],[325.4,8.2],[326.4,7.6],[327.8,8.2],[329.2,8.4],[330.6,8.4],[331.9,9],[333.3,9.4],[334.7,9.8],[335.7,8.8],[336.8,8.6],[338.2,7.4],[339.6,5],[341,5.7],[342.4,4.9],[343.8,4.7],[345.1,4.9],[346.5,6.4],[347.9,8.6],[349.3,9],[350.4,8.8],[351.8,7.6],[353.2,7],[354.6,7.8],[356,7.4],[357.4,6.4],[358.8,4.7],[360.1,3.9],[361.5,4.3],[362.9,5.3],[363.9,8.2],[365.3,7.8],[366.7,8],[368.1,6.4],[369.4,4.7],[370.8,5.3],[372.2,5.3],[373.6,6.4],[375,7],[376,7.6],[377.1,8.3],[378.5,7.2],[379.9,7.2],[381.3,6.4],[382.6,5.4],[384,5.6],[385.4,4.5],[386.8,6.6],[388.2,7],[389.6,7.2],[391,6.6],[392.4,6.6],[393.8,7.2],[395.1,7.6],[396.3,8.5],[397.6,6.4],[399,6.3],[400.4,5.6],[401.8,3.9],[403.2,4.1],[404.6,4.7],[406,5.4],[407.4,5.4],[408.8,6.6],[410.1,5.2],[411.5,4.7],[412.9,6],[414.3,6.2],[415.7,8.4],[417.1,9.4],[418.1,8.2],[419.1,9.2],[420.1,8.4],[421.3,9],[422.6,7.8],[424,6.2],[425.4,6],[426.4,5.2],[427.4,6.2],[428.8,6.2],[430.1,6.2],[431.5,6.2],[432.6,5.8],[434,7.2],[435.4,6.6],[436.8,6.8],[437.9,7.2],[439.3,6.2],[440.7,5.6],[442.1,5],[443.5,4.5],[444.9,5.6],[446.3,6.4],[447.6,6.2],[449,6.2],[450.5,4.1]];
// RH (%) sampled every 2.5 s from 0 s
const botRHStart = 0;
const botRH = [68.0,68.0,68.05,68.0,68.2,68.15,68.3,68.25,68.45,68.5,
  68.6,68.5,68.7,68.75,68.9,68.8,69.0,69.1,69.2,69.15,
  69.4,69.3,69.5,69.55,69.65,69.6,69.85,69.75,70.0,69.95,
  70.15,70.1,70.35,70.3,70.5,70.45,70.7,70.6,70.8,70.75,
  70.95,71.0,71.2,71.1,71.3,71.25,71.55,71.4,71.7,71.6,
  71.85,71.8,72.05,71.95,72.2,72.2,72.45,72.35,72.6,72.5,
  72.75,72.7,72.9,72.85,73.1,73.0,73.25,73.2,73.45,73.35,
  73.6,73.5,73.8,73.75,74.0,73.9,74.15,74.1,74.4,74.3,
  74.6,74.5,74.85,74.7,75.05,74.95,75.3,75.2,75.5,75.4,
  75.75,75.6,75.9,75.8,76.05,76.0,76.3,76.2,76.45,76.4,
  76.7,76.6,76.9,76.8,77.1,77.0,77.3,77.25,77.5,77.45,
  77.8,77.7,78.0,77.9,78.2,78.1,78.45,78.35,78.65,78.55,
  78.85,78.75,79.1,78.95,79.3,79.15,79.5,79.35,79.7,79.55,
  79.9,79.75,80.1,79.95,80.3,80.15,80.5,80.35,80.7,80.6,
  80.95,80.8,81.2,81.05,81.45,81.3,81.7,81.55,81.95,81.8,
  82.2,82.1,82.5,82.35,82.75,82.6,83.0,82.85,83.2,83.1,
  83.45,83.5,84.05,83.8,83.95,83.9,84.05,84.0,84.3,84.25,
  84.7,84.5,85.0,84.7,85.2,84.9,85.5,85.1,85.8,85.6,86.2];
const rhStep = 2.5;

const colors = {"Bin 8": "#000000", "Bin 9": "#7E2F8E", "Bin 11": "#77AC30", "Bin 13": "#FF0000", "RH": "#00FFFF"};

// ---- drawing ----
const width = 1235;
const height = 1314;
const sans = "'Liberation Sans', Arial, Helvetica, sans-serif";
const serif = "'Liberation Serif', 'Times New Roman', serif";
const axisColor = "#262626";

const svg = d3.select("#chart")
  .append("svg")
  .attr("width", width)
  .attr("height", height)
  .style("font-family", sans);

function styleAxis(sel, textColor) {
  sel.select(".domain").remove();
  sel.selectAll("line").attr("stroke", axisColor);
  sel.selectAll("text")
    .style("font-family", sans)
    .style("font-size", "21.5px")
    .attr("fill", textColor);
}

function drawPanel(p) {
  const x = d3.scaleLinear().domain([0, p.tMax]).range([p.left, p.right]);
  const y = d3.scaleLinear().domain([0, 30]).range([p.bottom, p.top]);
  const yR = d3.scaleLinear().domain([68, 90]).range([p.bottom, p.top]);

  const g = svg.append("g");

  g.append("clipPath").attr("id", p.id + "-clip")
    .append("rect")
    .attr("x", p.left).attr("y", p.top)
    .attr("width", p.right - p.left).attr("height", p.bottom - p.top);

  // bottom axis with labels, mirrored ticks on top
  g.append("g")
    .attr("transform", `translate(0,${p.bottom})`)
    .call(d3.axisBottom(x).tickValues(p.timeTicks).tickSize(-8).tickSizeOuter(0).tickPadding(12))
    .call(styleAxis, "#333");

  g.append("g")
    .attr("transform", `translate(0,${p.top})`)
    .call(d3.axisTop(x).tickValues(p.timeTicks).tickSize(-8).tickSizeOuter(0).tickFormat(""))
    .call(styleAxis, "#333");

  // left axis (counts)
  g.append("g")
    .attr("transform", `translate(${p.left},0)`)
    .call(d3.axisLeft(y).tickValues(countTicks).tickSize(-8).tickSizeOuter(0).tickPadding(7))
    .call(styleAxis, "#000");

  // right axis (RH)
  g.append("g")
    .attr("transform", `translate(${p.right},0)`)
    .call(d3.axisRight(yR).tickValues(rhTicks).tickSize(-8).tickSizeOuter(0).tickPadding(8))
    .call(styleAxis, "#000");

  // data lines
  const plot = g.append("g").attr("clip-path", `url(#${p.id}-clip)`);
  const line = d3.line().x(d => x(d[0])).y(d => y(d[1]));
  p.bins.forEach((data, i) => {
    plot.append("path")
      .datum(data)
      .attr("d", line)
      .attr("fill", "none")
      .attr("stroke", colors[seriesNames[i]])
      .attr("stroke-width", 2)
      .attr("stroke-linejoin", "round");
  });

  const rhLine = d3.line().x((d, i) => x(p.rhStart + i * rhStep)).y(d => yR(d));
  plot.append("path")
    .datum(p.rh)
    .attr("d", rhLine)
    .attr("fill", "none")
    .attr("stroke", colors["RH"])
    .attr("stroke-width", 1);

  // dashed marker
  g.append("line")
    .attr("x1", x(p.marker.time)).attr("x2", x(p.marker.time))
    .attr("y1", y(p.marker.from)).attr("y2", y(p.marker.to))
    .attr("stroke", "#FF0000")
    .attr("stroke-width", 5)
    .attr("stroke-dasharray", "21,14");

  // frame
  g.append("rect")
    .attr("x", p.left).attr("y", p.top)
    .attr("width", p.right - p.left).attr("height", p.bottom - p.top)
    .attr("fill", "none")
    .attr("stroke", "#555")
    .attr("stroke-width", 1);

  // legend
  const lg = g.append("g").attr("transform", `translate(87,${p.top + 12})`);
  lg.append("rect")
    .attr("x", 0).attr("y", 0).attr("width", 570).attr("height", 32)
    .attr("fill", "#fff").attr("stroke", "#555").attr("stroke-width", 1);
  const legendX = [6, 120, 233, 357, 482];
  seriesNames.forEach((name, i) => {
    lg.append("line")
      .attr("x1", legendX[i]).attr("x2", legendX[i] + 48)
      .attr("y1", 16).attr("y2", 16)
      .attr("stroke", colors[name])
      .attr("stroke-width", name === "RH" ? 1 : 2);
    lg.append("text")
      .attr("x", legendX[i] + 54)
      .attr("y", 23.5)
      .style("font-size", "20px")
      .attr("fill", "#000")
      .text(name);
  });

  // annotation
  p.note.forEach((t, i) => {
    g.append("text")
      .attr("x", 691)
      .attr("y", p.top + 40 + i * 32)
      .style("font-family", serif)
      .style("font-size", "29px")
      .attr("fill", "#000")
      .text(t);
  });

  // axis titles
  g.append("text")
    .attr("transform", `translate(31,${(p.top + p.bottom) / 2}) rotate(-90)`)
    .attr("text-anchor", "middle")
    .style("font-size", "23.5px")
    .attr("fill", "#000")
    .text("Counts");

  const rhTitle = g.append("text")
    .attr("transform", `translate(1214,${(p.top + p.bottom) / 2}) rotate(-90)`)
    .attr("text-anchor", "middle")
    .style("font-size", "22.5px")
    .attr("fill", "#000");
  rhTitle.append("tspan").text("RH");
  rhTitle.append("tspan").style("font-size", "17px").attr("dy", 12).text("w");
  rhTitle.append("tspan").attr("dy", -12).text(" (%)");

  g.append("text")
    .attr("x", (p.left + p.right) / 2)
    .attr("y", p.bottom + 59)
    .attr("text-anchor", "middle")
    .style("font-size", "23.5px")
    .attr("fill", "#333")
    .text("Time (s)");
}

drawPanel({
  id: "top", left: 72, right: 1155, top: 22, bottom: 590, tMax: 550,
  timeTicks: topTimeTicks,
  bins: [topBin8, topBin9, topBin11, topBin13],
  rh: topRH, rhStart: topRHStart,
  marker: topMarker, note: topNote
});

drawPanel({
  id: "bot", left: 71, right: 1153, top: 684, bottom: 1251, tMax: 450.5,
  timeTicks: botTimeTicks,
  bins: [botBin8, botBin9, botBin11, botBin13],
  rh: botRH, rhStart: botRHStart,
  marker: botMarker, note: botNote
});
</script>
</body>
</html>
